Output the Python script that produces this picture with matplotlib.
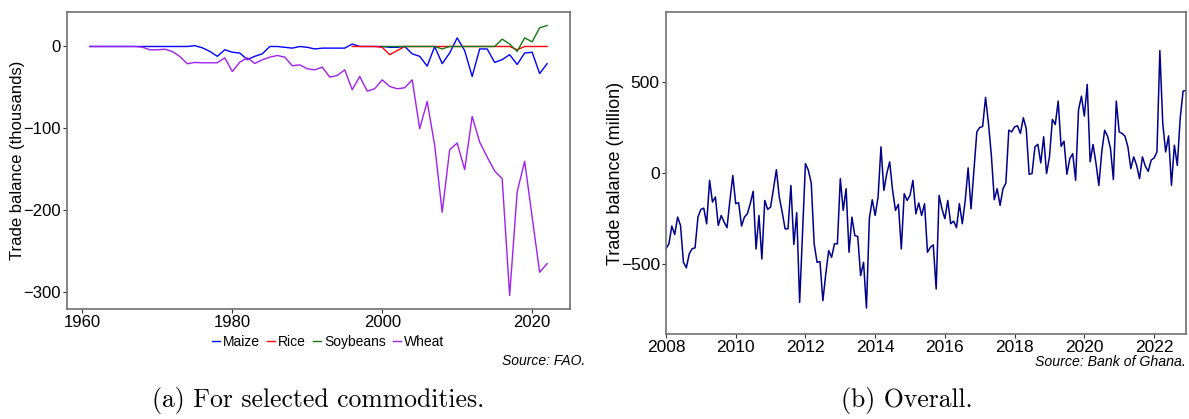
import numpy as np
import matplotlib
matplotlib.use("Agg")
import matplotlib.pyplot as plt

plt.rcParams['font.family'] = ['Liberation Sans', 'DejaVu Sans']

# panel (a): trade balance by commodity, thousands
years = list(range(1961, 2023))
maize = [0]*14 + [1, -1.6, -6, -12, -4, -7, -8, -16, -12, -9,
                  0, 0, -1, -2, 0, -1, -3, -2, -2, -2,
                  -2, 3, 0, 0, 0, 0, -1, -1, 0, -9,
                  -12, -24, 0, -21, -8, 10.5, -5, -36.6, -3, -3,
                  -19.5, -16, -10, -22, -8, -7, -33, -21]
wheat = [0]*7 + [-0.8, -4.1, -4.1, -3.3, -6.1, -12.2, -21.1, -19.5, -19.9, -19.9,
                 -19.9, -13.8, -30.5, -19.1, -13.8, -20.7, -16.3, -13.0, -11.0, -13.0,
                 -23.6, -22.4, -27.2, -28.5, -25.2, -37.4, -35.4, -28.5, -52.8, -36.6,
                 -54.5, -51.6, -40.7, -48.8, -51.6, -50.4, -40.7, -100.4, -67.1, -120.7,
                 -202.4, -126.0, -117.9, -150.4, -85.4, -116.7, -134.9, -152.0, -161.4, -304,
                 -177.6, -140.2, -208.1, -275.6, -265.0]
rice_years = list(range(1996, 2023))
rice = [0, 0, 0, 0, -1, -10, -5] + [0]*15 + [-4, 0, 0, 0, 0]
soy_years = list(range(2000, 2023))
soy = [0]*8 + [-3] + [0]*7 + [9, 3, -6, 10.5, 5.7, 22.8, 25.6]

# panel (b): overall monthly trade balance, million, Jan 2008 - Dec 2022
tb = [-414, -387, -290, -336, -241, -287, -488, -518, -442, -414,
      -409, -241, -199, -192, -278, -40, -159, -131, -287, -232,
      -268, -299, -150, -13, -168, -162, -290, -241, -223, -168,
      -100, -415, -232, -470, -150, -199, -186, -86, 18, -132,
      -214, -305, -305, -68, -391, -217, -707, -333, 51, 15,
      -55, -387, -488, -484, -698, -552, -424, -461, -387, -387,
      -31, -204, -86, -433, -241, -342, -347, -561, -488, -738,
      -250, -146, -232, -132, 143, -95, -3, 61, -95, -204,
      -171, -415, -113, -150, -122, -40, -223, -164, -232, -168,
      -433, -406, -393, -634, -122, -196, -250, -150, -277, -263,
      -299, -168, -277, -150, 28, -196, 15, 225, 249, 254,
      413, 271, 97, -146, -86, -177, -86, -55, 234, 225,
      252, 258, 216, 302, 243, -7, -3, 143, 157, 55,
      198, -3, 88, 293, 265, 393, 146, 174, -7, 79,
      106, -40, 344, 420, 311, 484, 61, 156, 55, -68,
      115, 234, 201, 134, -36, 393, 225, 216, 201, 143,
      24, 88, 42, -31, 88, 37, 9, 70, 82, 115,
      669, 271, 115, 203, -67, 152, 42, 298, 448, 451]
months = 2008 + np.arange(len(tb)) / 12.0

fig = plt.figure(figsize=(11.89, 4.19), dpi=100)
W, H = 1189.0, 419.0

def style(ax, fs):
    for s in ax.spines.values():
        s.set_color('#707070')
        s.set_linewidth(1.2)
    ax.tick_params(direction='out', length=3, width=0.8, color='#333333',
                   labelsize=fs, labelcolor='black', pad=1.5)

ax1 = fig.add_axes([67/W, 1-309/H, (570-67)/W, (309-12)/H])
ax1.plot(years, maize, color='blue', lw=1.0, label='Maize')
ax1.plot(rice_years, rice, color='red', lw=1.0, label='Rice')
ax1.plot(soy_years, soy, color='#137a13', lw=1.0, label='Soybeans')
ax1.plot(years, wheat, color='#a020f0', lw=1.0, label='Wheat')
ax1.set_xlim(1957.95, 2025.05)
ax1.set_ylim(-320.5, 42.1)
ax1.set_xticks([1960, 1980, 2000, 2020])
ax1.set_yticks([0, -100, -200, -300])
ax1.set_ylabel('Trade balance (thousands)', fontsize=12)
ax1.yaxis.set_label_coords(-0.084, 0.5)
style(ax1, 12)
fig.legend(*ax1.get_legend_handles_labels(), loc='center',
           bbox_to_anchor=(328/W, 1-342/H), ncol=4, frameon=False, fontsize=10,
           handlelength=0.6, handletextpad=0.2, columnspacing=0.5)
fig.text(585/W, 1-361/H, 'Source: FAO.', ha='right', va='center',
         style='italic', fontsize=10)

ax2 = fig.add_axes([666/W, 1-334/H, (1186-666)/W, (334-12)/H])
ax2.plot(months, tb, color='#00008b', lw=1.1)
ax2.set_xlim(months[0], months[-1])
ax2.set_ylim(-880, 880)
ax2.set_xticks(range(2008, 2023, 2))
ax2.set_yticks([500, 0, -500])
ax2.set_ylabel('Trade balance (million)', fontsize=13)
ax2.yaxis.set_label_coords(-0.08, 0.5)
style(ax2, 12.5)
ax2.tick_params(axis='x', pad=1)
fig.text(1186/W, 1-362/H, 'Source: Bank of Ghana.', ha='right', va='center',
         style='italic', fontsize=10.2)

fig.text(318/W, 1-400/H, '(a) For selected commodities.', ha='center',
         va='center', family='cmr10', fontsize=18.5)
fig.text(907/W, 1-400/H, '(b) Overall.', ha='center', va='center',
         family='cmr10', fontsize=18.5)

fig.savefig('out.png', dpi=100)
